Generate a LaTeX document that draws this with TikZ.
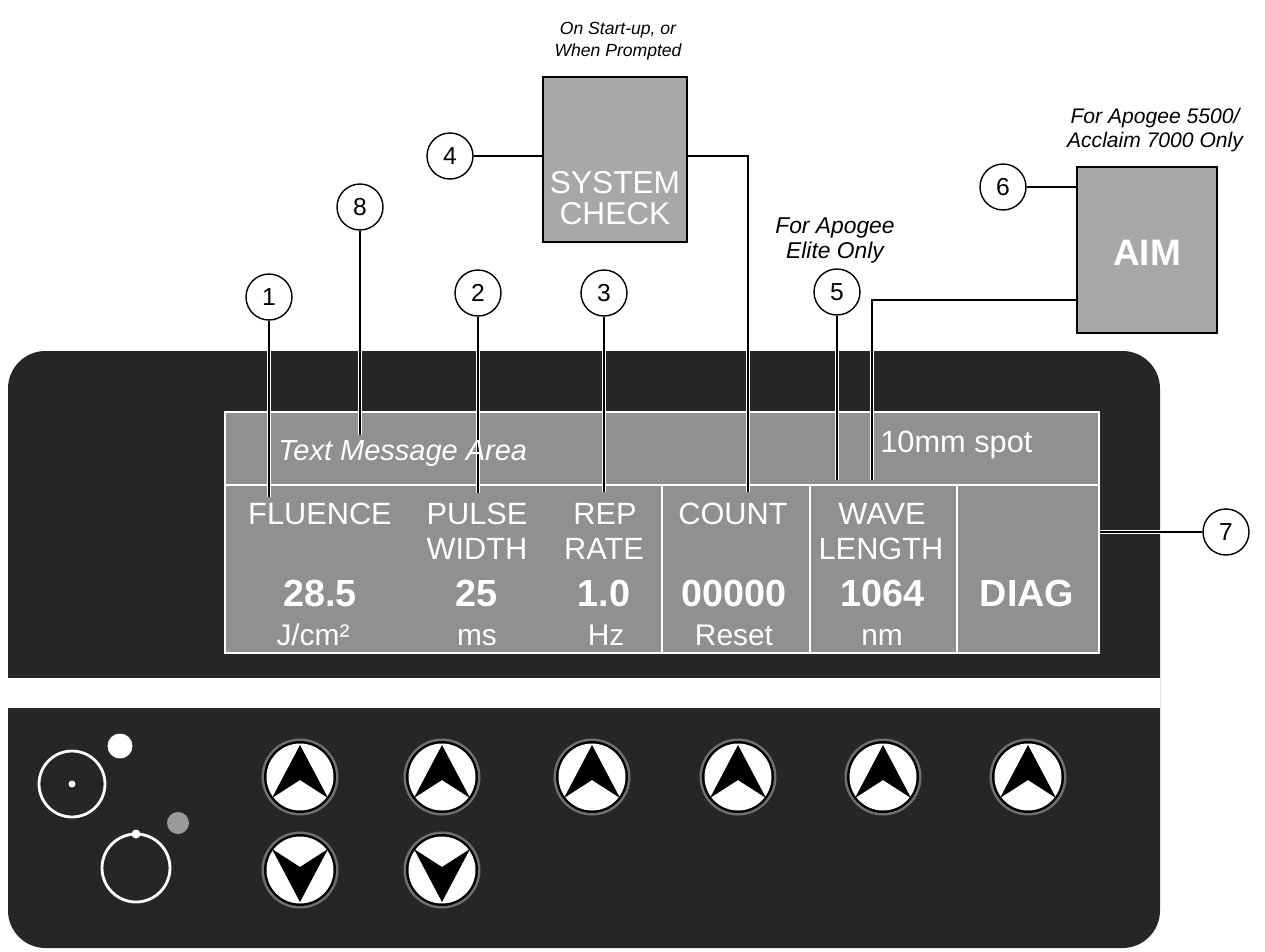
\documentclass[tikz,border=0pt]{standalone}
\usepackage{fontspec}
\setmainfont{Liberation Sans}
\definecolor{panel}{HTML}{262626}
\definecolor{scrgray}{HTML}{909090}
\definecolor{boxgray}{HTML}{A8A8A8}
\definecolor{halo}{HTML}{707070}
\definecolor{dotgray}{HTML}{9A9A9A}
\pgfdeclarelayer{bg}
\pgfdeclarelayer{lines}
\pgfsetlayers{bg,lines,main}
\begin{document}
\begin{tikzpicture}[x=0.02cm,y=-0.02cm,
  callout/.style={circle,draw=black,line width=0.8pt,fill=white,minimum size=0.92cm,inner sep=0pt,font=\fontsize{14}{14}\selectfont},
  lead/.style={draw=black,line width=0.6pt,preaction={draw=white,line width=2.2pt}},
  scrtxt/.style={text=white,anchor=base,inner sep=0pt,font=\fontsize{17.5}{17.5}\selectfont},
  numtxt/.style={text=white,anchor=base,inner sep=0pt,font=\bfseries\fontsize{21.5}{21.5}\selectfont},
  unittxt/.style={text=white,anchor=base,inner sep=0pt,font=\fontsize{17}{17}\selectfont},
  boxtxt/.style={text=white,anchor=base,inner sep=0pt,font=\fontsize{18}{18}\selectfont},
  notetxt/.style={anchor=base,inner sep=0pt},
  keybox/.style={draw=black,line width=1pt,fill=boxgray,inner sep=0pt},
  scrline/.style={draw=white,line width=1.2pt}]
\useasboundingbox (0,0) rectangle (1265,951);

\begin{pgfonlayer}{bg}
  % panel
  \fill[panel,rounded corners=0.75cm] (8,351) rectangle (1160,948);
  \fill[white] (8,678) rectangle (1160,708);
  % screen
  \fill[scrgray] (225,412) rectangle (1099,653);
  \draw[scrline] (225,412) rectangle (1099,653);
  \draw[scrline] (225,485) -- (1099,485);
  \draw[scrline] (662,485) -- (662,653);
  \draw[scrline] (810,485) -- (810,653);
  \draw[scrline] (957,485) -- (957,653);
  % left indicators
  \draw[white,line width=1.6pt] (72,784) circle (0.66cm);
  \fill[white] (72,784) circle (0.07cm);
  \fill[white] (120,746) circle (0.25cm);
  \fill[dotgray] (178,823) circle (0.22cm);
  \draw[white,line width=1.6pt] (136,868) circle (0.68cm);
  \fill[white] (136,834) circle (0.09cm);
  % buttons
  \foreach \bx in {300,442,592,738,883,1028} {
    \fill[halo] (\bx,777) circle (0.77cm);
    \fill[black] (\bx,777) circle (0.72cm);
    \fill[white] (\bx,777) circle (0.67cm);
    \fill[black] (\bx,745) -- (\bx+28,798) -- (\bx,780) -- (\bx-28,798) -- cycle;
  }
  \foreach \bx in {300,442} {
    \fill[halo] (\bx,870) circle (0.77cm);
    \fill[black] (\bx,870) circle (0.72cm);
    \fill[white] (\bx,870) circle (0.67cm);
    \fill[black] (\bx,902) -- (\bx+28,849) -- (\bx,867) -- (\bx-28,849) -- cycle;
  }
\end{pgfonlayer}

% callouts
\node[callout] (c1) at (269,297) {1};
\node[callout] (c2) at (478,293) {2};
\node[callout] (c3) at (604,293) {3};
\node[callout] (c4) at (450,156) {4};
\node[callout] (c5) at (837,292) {5};
\node[callout] (c6) at (1003,187) {6};
\node[callout] (c7) at (1226,532) {7};
\node[callout] (c8) at (360,207) {8};

% key boxes
\node[keybox,minimum width=2.88cm,minimum height=3.3cm] (sys) at (615,159.5) {};
\node[boxtxt] (sysA) at (615,193) {SYSTEM};
\node[boxtxt] (sysB) at (615,224) {CHECK};
\node[keybox,minimum width=2.8cm,minimum height=3.32cm] (aim) at (1147,250) {};
\node[numtxt,font=\bfseries\fontsize{21}{21}\selectfont] (aimt) at (1147,265) {AIM};

% notes
\node[notetxt,font=\itshape\fontsize{10}{10}\selectfont] (n4a) at (618,34) {On Start-up, or};
\node[notetxt,font=\itshape\fontsize{10}{10}\selectfont] (n4b) at (618,56) {When Prompted};
\node[notetxt,font=\itshape\fontsize{13}{13}\selectfont] (n5a) at (835,233) {For Apogee};
\node[notetxt,font=\itshape\fontsize{13}{13}\selectfont] (n5b) at (835,258) {Elite Only};
\node[notetxt,font=\itshape\fontsize{12}{12}\selectfont] (n6a) at (1155,123) {For Apogee 5500/};
\node[notetxt,font=\itshape\fontsize{12}{12}\selectfont] (n6b) at (1155,147) {Acclaim 7000 Only};

% screen texts
\node[scrtxt,anchor=base west,font=\itshape\fontsize{16.5}{16.5}\selectfont] (msg) at (278,460) {Text Message Area};
\node[scrtxt,anchor=base west] (spot) at (880,452) {10mm spot};
\node[scrtxt] (fl) at (320,524) {FLUENCE};
\node[scrtxt] (pu) at (477,524) {PULSE};
\node[scrtxt] (wi) at (477,559) {WIDTH};
\node[scrtxt] (re) at (605,524) {REP};
\node[scrtxt] (ra) at (604,559) {RATE};
\node[scrtxt] (co) at (733,524) {COUNT};
\node[scrtxt] (wa) at (882,524) {WAVE};
\node[scrtxt] (le) at (881,559) {LENGTH};
\node[numtxt] (v1) at (320,606) {28.5};
\node[numtxt] (v2) at (477,606) {25};
\node[numtxt] (v3) at (604,606) {1.0};
\node[numtxt] (v4) at (734,606) {00000};
\node[numtxt] (v5) at (883,606) {1064};
\node[numtxt] (v6) at (1027,606) {DIAG};
\node[unittxt] (u1) at (313,645) {J/cm²};
\node[unittxt] (u2) at (477,645) {ms};
\node[unittxt] (u3) at (606,645) {Hz};
\node[unittxt] (u4) at (734,645) {Reset};
\node[unittxt] (u5) at (882,645) {nm};

% connector ends
\coordinate (e1) at (269,497);
\coordinate (e2) at (478,493);
\coordinate (e3) at (604,492);
\coordinate (k4) at (748,156);
\coordinate (e4) at (748,492);
\coordinate (e5) at (837,480);
\coordinate (k6) at (872,300);
\coordinate (e6) at (872,480);
\coordinate (e7) at (1100,532);
\coordinate (e8) at (360,435);

\begin{pgfonlayer}{lines}
  \draw[lead] (c1) -- (e1);
  \draw[lead] (c2) -- (e2);
  \draw[lead] (c3) -- (e3);
  \draw[lead] (c8) -- (e8);
  \draw[lead] (c5) -- (e5);
  \draw[lead] (c7) -- (e7);
  \draw[lead] (c4) -- (c4 -| sys.west);
  \draw[lead] (sys.east |- k4) -- (k4) -- (e4);
  \draw[lead] (c6) -- (c6 -| aim.west);
  \draw[lead] (aim.west |- k6) -- (k6) -- (e6);
\end{pgfonlayer}
\end{tikzpicture}
\end{document}
